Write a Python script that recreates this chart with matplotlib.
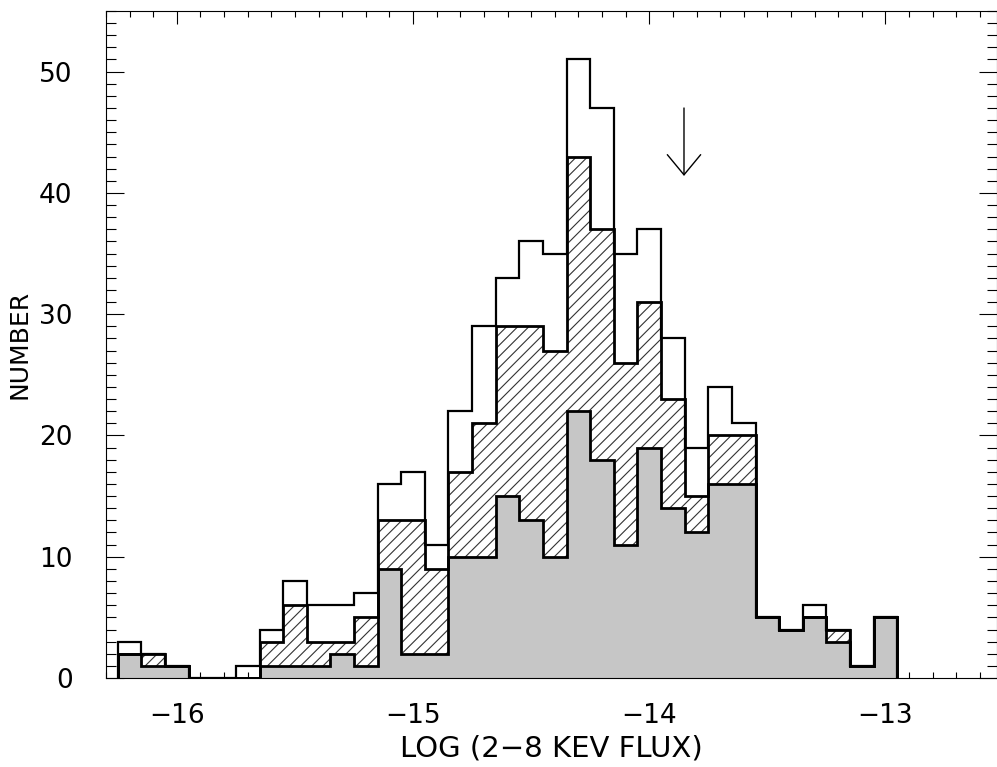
import numpy as np
import matplotlib
matplotlib.use("Agg")
import matplotlib.pyplot as plt
from matplotlib.ticker import MultipleLocator

# bin centres in log(2-8 keV flux)
centers = np.round(np.arange(-16.2, -12.95, 0.1), 2)

# total, hatched subset, grey subset
n_all = [3, 2, 1, 0, 0, 1, 4, 8, 6, 6, 7, 16, 17, 11, 22, 29, 33, 36, 35, 51,
         47, 35, 37, 28, 19, 24, 21, 5, 4, 6, 4, 1, 5]
n_hatch = [2, 2, 1, 0, 0, 0, 3, 6, 3, 3, 5, 13, 13, 9, 17, 21, 29, 29, 27, 43,
           37, 26, 31, 23, 15, 20, 20, 5, 4, 5, 4, 1, 5]
n_grey = [2, 1, 1, 0, 0, 0, 1, 1, 1, 2, 1, 9, 2, 2, 10, 10, 15, 13, 10, 22,
          18, 11, 19, 14, 12, 16, 16, 5, 4, 5, 3, 1, 5]

# arrow marking a flux limit
arrow_x = -13.853
arrow_top = 47.0
arrow_tip = 41.4

edges = np.append(centers - 0.05, centers[-1] + 0.05)

plt.rcParams['font.family'] = 'DejaVu Sans'
plt.rcParams['hatch.linewidth'] = 0.8

fig = plt.figure(figsize=(9.97, 7.67), dpi=100)
ax = fig.add_axes([0.1063, 0.1160, 0.8932, 0.8697])

ax.stairs(n_hatch, edges, fill=True, facecolor='white', edgecolor='#333333',
          hatch='///', linewidth=0, zorder=1)
ax.stairs(n_grey, edges, fill=True, facecolor='#c6c6c6', edgecolor='none',
          linewidth=0, zorder=2)
ax.stairs(n_all, edges, baseline=0, color='black', linewidth=1.6, zorder=3)
ax.stairs(n_hatch, edges, baseline=0, color='black', linewidth=2.0, zorder=3)
ax.stairs(n_grey, edges, baseline=0, color='black', linewidth=2.0, zorder=3)

ax.annotate('', xy=(arrow_x, arrow_tip), xytext=(arrow_x, arrow_top),
            arrowprops=dict(arrowstyle='->,head_length=1.45,head_width=1.2',
                            lw=1.0, color='black', shrinkA=0, shrinkB=0))

ax.set_xlim(-16.3, -12.53)
ax.set_ylim(0, 55)
ax.xaxis.set_major_locator(MultipleLocator(1))
ax.xaxis.set_minor_locator(MultipleLocator(0.1))
ax.yaxis.set_major_locator(MultipleLocator(10))
ax.yaxis.set_minor_locator(MultipleLocator(1))
ax.set_axisbelow(True)

ax.tick_params(which='both', direction='in', top=True, right=True,
               width=0.8, colors='black')
ax.tick_params(axis='x', which='major', length=9.4, pad=18, labelsize=19)
ax.tick_params(axis='x', which='minor', length=4.3)
ax.tick_params(axis='y', which='major', length=13, pad=24, labelsize=19)
ax.tick_params(axis='y', which='minor', length=7)
for s in ax.spines.values():
    s.set_linewidth(0.8)

ax.set_xlabel('LOG (2\u22128 KEV FLUX)', fontsize=21, labelpad=4)
ax.set_ylabel('NUMBER', fontsize=18)
ax.yaxis.set_label_coords(-0.084, 0.5)

plt.savefig("out.png", dpi=100)
